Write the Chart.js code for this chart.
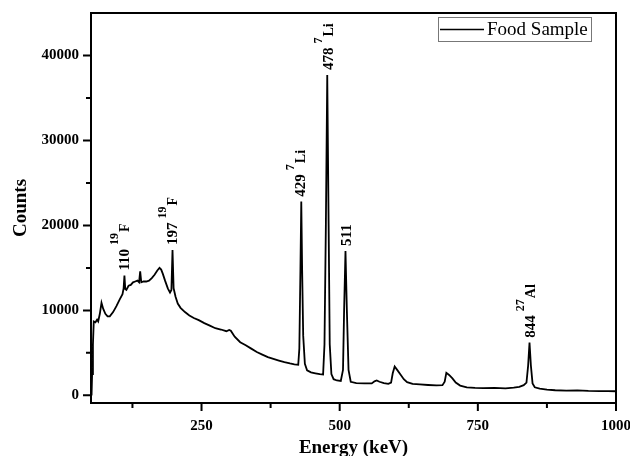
<!DOCTYPE html>
<html>
<head>
<meta charset="utf-8">
<script src="https://cdn.jsdelivr.net/npm/chart.js@4.4.1/dist/chart.umd.min.js"></script>
<style>
html, body { margin: 0; padding: 0; background: #fff; }
</style>
</head>
<body>
<canvas id="spectrum" width="630" height="456"></canvas>
<script>
// Spectrum (keV, counts)
const energies = [51, 52, 53.5, 55, 58, 61, 63, 66, 69, 72, 76, 80, 84, 90, 96, 102, 107, 109, 110.5, 112,
  114, 118, 122, 126, 130, 134, 137, 139, 141, 145, 150, 155, 160, 165, 170, 174, 177, 180, 184, 189,
  193, 195.5, 197.5, 199.5, 203, 207, 212, 220, 228, 236, 245, 255, 265, 275, 285, 295, 300, 303, 310, 320,
  330, 340, 350, 360, 370, 380, 390, 400, 410, 418, 425, 427, 429, 430.5, 432, 434, 437, 441, 448, 456,
  464, 470, 472.5, 475, 477.5, 480, 482, 485, 489, 495, 502, 506, 508, 510.5, 513, 516, 520, 530, 545, 558,
  563, 567, 572, 580, 588, 593, 596, 599.5, 604, 610, 616, 622, 632, 645, 660, 675, 686, 690, 693, 698,
  704, 710, 718, 730, 745, 760, 780, 800, 815, 825, 833, 838, 841, 843.5, 846, 849, 853, 862, 875, 890,
  910, 930, 950, 970, 985, 1000];
const counts = [0, 2500, 6000, 8700, 8600, 8900, 8700, 9600, 10900, 10200, 9600, 9300, 9300, 9800, 10500, 11300, 11900, 12600, 14100, 12500,
  12400, 12900, 13000, 13300, 13400, 13500, 13300, 14600, 13300, 13400, 13400, 13500, 13800, 14200, 14700, 15000, 14800, 14300, 13500, 12600,
  12100, 12400, 17100, 12600, 11600, 10800, 10300, 9800, 9400, 9100, 8850, 8500, 8200, 7900, 7750, 7550, 7700, 7600, 6900, 6250,
  5900, 5500, 5100, 4800, 4500, 4300, 4100, 3900, 3750, 3650, 3600, 5500, 15000, 22800, 15000, 7000, 3700, 2950, 2700, 2600,
  2500, 2450, 6000, 20000, 37700, 20000, 6000, 2500, 1900, 1750, 1700, 3000, 10000, 17000, 10000, 3000, 1600, 1450, 1400, 1400,
  1650, 1750, 1600, 1450, 1350, 1500, 2600, 3400, 3000, 2450, 1900, 1550, 1350, 1280, 1220, 1180, 1200, 1600, 2650, 2400,
  2000, 1500, 1150, 950, 880, 850, 870, 820, 900, 1000, 1200, 1500, 3500, 6200, 3500, 1400, 950, 800, 680, 600,
  560, 580, 520, 500, 490, 480];

const xTicks = [125, 250, 375, 500, 625, 750, 875, 1000];
const xLabelled = [250, 500, 750, 1000];
const yTicks = [0, 5000, 10000, 15000, 20000, 25000, 30000, 35000, 40000];
const yLabelled = [0, 10000, 20000, 30000, 40000];

// peak annotations
const peakEnergy = [110, 197, 429, 478, 511, 844];
const peakMass = ['19', '19', '7', '7', '', '27'];
const peakElem = ['F', 'F', 'Li', 'Li', '', 'Al'];

const serif = '"Liberation Serif", "Times New Roman", serif';

function noScalePadding(s) {
  s.paddingTop = 0;
  s.paddingBottom = 0;
  s.paddingLeft = 0;
  s.paddingRight = 0;
}

const decorations = {
  id: 'decorations',
  afterDraw(chart) {
    const { ctx, chartArea: a, scales: { x, y } } = chart;
    ctx.save();
    ctx.strokeStyle = '#000';
    ctx.lineWidth = 2;
    ctx.strokeRect(a.left, a.top, a.right - a.left, a.bottom - a.top);

    // outward ticks, long for labelled ones
    ctx.beginPath();
    x.ticks.forEach(t => {
      const px = x.getPixelForValue(t.value);
      const len = xLabelled.includes(t.value) ? 8 : 5;
      ctx.moveTo(px, a.bottom);
      ctx.lineTo(px, a.bottom + len);
    });
    y.ticks.forEach(t => {
      const py = y.getPixelForValue(t.value);
      const len = yLabelled.includes(t.value) ? 8 : 5;
      ctx.moveTo(a.left, py);
      ctx.lineTo(a.left - len, py);
    });
    ctx.stroke();

    // rotated peak labels
    ctx.fillStyle = '#000';
    peakEnergy.forEach((e, i) => {
      let top = 0;
      energies.forEach((v, k) => { if (Math.abs(v - e) < 4) top = Math.max(top, counts[k]); });
      const px = x.getPixelForValue(e) + 5;
      const py = y.getPixelForValue(top) - 5;
      ctx.save();
      ctx.translate(px, py);
      ctx.rotate(-Math.PI / 2);
      ctx.textAlign = 'left';
      ctx.textBaseline = 'alphabetic';
      ctx.font = 'bold 15px ' + serif;
      const num = String(e);
      ctx.fillText(num, 0, 0);
      let u = ctx.measureText(num).width + 4;
      if (peakMass[i]) {
        ctx.font = 'bold 12px ' + serif;
        ctx.fillText(peakMass[i], u, -11);
        u += ctx.measureText(peakMass[i]).width + 1;
        ctx.font = 'bold 14px ' + serif;
        ctx.fillText(peakElem[i], u, 0);
      }
      ctx.restore();
    });

    // legend box
    const bx = a.right - 178, by = a.top + 4;
    ctx.lineWidth = 1;
    ctx.strokeStyle = '#777';
    ctx.strokeRect(bx + 0.5, by + 0.5, 153, 24);
    ctx.strokeStyle = '#000';
    ctx.lineWidth = 1.5;
    ctx.beginPath();
    ctx.moveTo(bx + 2, by + 12.5);
    ctx.lineTo(bx + 46, by + 12.5);
    ctx.stroke();
    ctx.font = '19px ' + serif;
    ctx.textAlign = 'left';
    ctx.textBaseline = 'alphabetic';
    ctx.fillText(chart.data.datasets[0].label, bx + 49, by + 17.5);
    ctx.restore();
  }
};

new Chart(document.getElementById('spectrum'), {
  type: 'line',
  data: {
    datasets: [{
      label: 'Food Sample',
      data: energies.map((e, i) => ({ x: e, y: counts[i] })),
      borderColor: '#000',
      borderWidth: 1.8,
      pointRadius: 0,
      fill: false,
      tension: 0
    }]
  },
  options: {
    responsive: false,
    animation: false,
    layout: { padding: { top: 13, right: 14, left: 0, bottom: 0 } },
    scales: {
      x: {
        type: 'linear',
        min: 50,
        max: 1000,
        afterBuildTicks: s => { s.ticks = xTicks.map(v => ({ value: v })); },
        afterFit: s => { s.height = 53; noScalePadding(s); },
        grid: { display: false, drawTicks: false },
        border: { display: false },
        ticks: {
          color: '#000',
          font: { family: serif, size: 15, weight: 'bold' },
          padding: 14,
          maxRotation: 0,
          autoSkip: false,
          callback: v => xLabelled.includes(v) ? String(v) : ''
        },
        title: {
          display: true,
          text: 'Energy (keV)',
          color: '#000',
          font: { family: serif, size: 19, weight: 'bold', lineHeight: 0.8 },
          padding: 0
        }
      },
      y: {
        min: -900,
        max: 45000,
        afterBuildTicks: s => { s.ticks = yTicks.map(v => ({ value: v })); },
        afterFit: s => { s.width = 91; noScalePadding(s); },
        grid: { display: false, drawTicks: false },
        border: { display: false },
        ticks: {
          color: '#000',
          font: { family: serif, size: 15, weight: 'bold' },
          padding: 12,
          autoSkip: false,
          callback: v => yLabelled.includes(v) ? String(v) : ''
        },
        title: {
          display: true,
          text: 'Counts',
          color: '#000',
          font: { family: serif, size: 19, weight: 'bold', lineHeight: 1 },
          padding: { top: 12, bottom: 0 }
        }
      }
    },
    plugins: {
      legend: { display: false },
      tooltip: { enabled: false }
    }
  },
  plugins: [decorations]
});
</script>
</body>
</html>
